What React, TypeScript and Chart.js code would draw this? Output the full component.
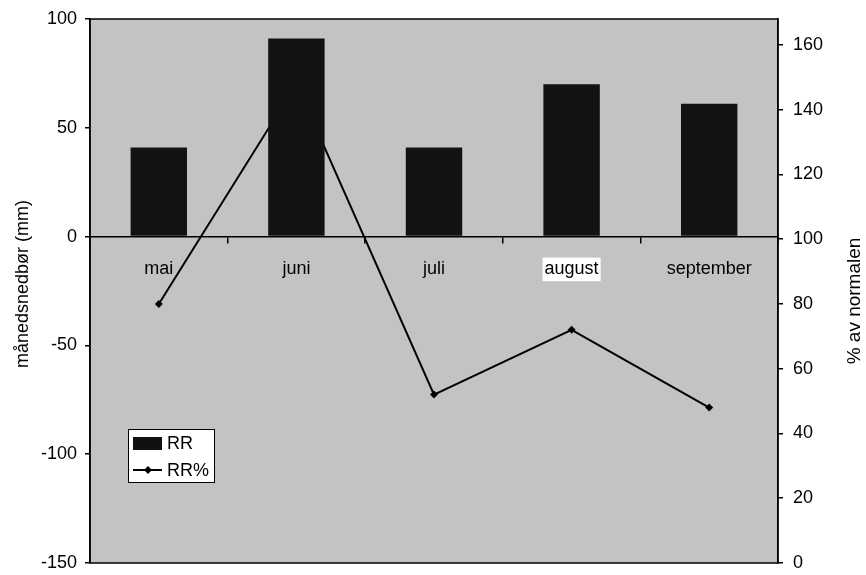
import React, { useEffect, useRef } from "react";
import { Chart, registerables } from "chart.js";

Chart.register(...registerables);

const categories = ["mai", "juni", "juli", "august", "september"];
const rrValues = [41, 91, 41, 70, 61];
const rrPctValues = [80, 148, 52, 72, 48];
const leftTicks = [-150, -100, -50, 0, 50, 100];
const rightTicks = [0, 20, 40, 60, 80, 100, 120, 140, 160];

const FONT = "'Liberation Sans', Arial, Helvetica, sans-serif";

const decorPlugin = {
  id: "decor",
  beforeDraw(chart: any) {
    const { ctx, chartArea } = chart;
    ctx.save();
    ctx.fillStyle = "#ffffff";
    ctx.fillRect(0, 0, chart.width, chart.height);
    ctx.fillStyle = "#c3c3c3";
    ctx.fillRect(chartArea.left, chartArea.top, chartArea.right - chartArea.left, chartArea.bottom - chartArea.top);
    ctx.restore();
  },
  afterDraw(chart: any) {
    const { ctx, chartArea } = chart;
    const { left, top, right, bottom } = chartArea;
    ctx.save();
    // plot frame
    ctx.strokeStyle = "#000";
    ctx.lineWidth = 1.5;
    ctx.strokeRect(left, top, right - left, bottom - top);

    // legend
    const lx = left + 38;
    const ly = top + 410;
    ctx.fillStyle = "#fff";
    ctx.fillRect(lx, ly, 86, 53);
    ctx.lineWidth = 1;
    ctx.strokeRect(lx + 0.5, ly + 0.5, 86, 53);
    ctx.fillStyle = "#111";
    ctx.fillRect(lx + 5, ly + 8, 29, 13);
    ctx.beginPath();
    ctx.moveTo(lx + 5, ly + 41);
    ctx.lineTo(lx + 34, ly + 41);
    ctx.lineWidth = 2;
    ctx.stroke();
    ctx.beginPath();
    ctx.moveTo(lx + 20, ly + 37);
    ctx.lineTo(lx + 24, ly + 41);
    ctx.lineTo(lx + 20, ly + 45);
    ctx.lineTo(lx + 16, ly + 41);
    ctx.closePath();
    ctx.fillStyle = "#000";
    ctx.fill();
    ctx.font = `18px ${FONT}`;
    ctx.textBaseline = "middle";
    ctx.textAlign = "left";
    ctx.fillText("RR", lx + 39, ly + 15);
    ctx.fillText("RR%", lx + 39, ly + 42);

    // axis titles
    ctx.font = `18px ${FONT}`;
    ctx.textAlign = "center";
    ctx.save();
    ctx.translate(23, (top + bottom) / 2 - 7);
    ctx.rotate(-Math.PI / 2);
    ctx.fillText("månedsnedbør (mm)", 0, 0);
    ctx.restore();
    ctx.font = `19px ${FONT}`;
    ctx.save();
    ctx.translate(855, (top + bottom) / 2 + 10);
    ctx.rotate(-Math.PI / 2);
    ctx.fillText("% av normalen", 0, 0);
    ctx.restore();
    ctx.restore();
  },
};

function zeroPad(s: any) {
  s.paddingTop = 0;
  s.paddingBottom = 0;
}

export default function App() {
  const ref = useRef<HTMLCanvasElement | null>(null);

  useEffect(() => {
    if (!ref.current) return;
    const chart = new Chart(ref.current, {
      type: "bar",
      data: {
        labels: categories,
        datasets: [
          {
            type: "bar",
            label: "RR",
            data: rrValues,
            backgroundColor: "#121212",
            borderWidth: 0,
            yAxisID: "y",
            order: 1,
            categoryPercentage: 1,
            barPercentage: 0.41,
          },
          {
            type: "line",
            label: "RR%",
            data: rrPctValues,
            borderColor: "#000",
            backgroundColor: "#000",
            borderWidth: 2,
            pointStyle: "rectRot",
            pointRadius: 4,
            pointBorderWidth: 0,
            yAxisID: "y1",
            order: 2,
            tension: 0,
          },
        ],
      },
      options: {
        animation: false,
        responsive: true,
        maintainAspectRatio: false,
        layout: { padding: { top: 19, bottom: 12, left: 0, right: 0 } },
        plugins: {
          legend: { display: false },
          tooltip: { enabled: false },
        },
        scales: {
          x: {
            type: "category",
            position: { y: 0 } as any,
            offset: true,
            afterFit: (s: any) => {
              s.paddingTop = 0;
              s.paddingBottom = 0;
            },
            grid: {
              offset: true,
              drawOnChartArea: false,
              drawTicks: true,
              tickLength: 6,
              color: "#000",
              lineWidth: 1.5,
            },
            border: { display: true, color: "#000", width: 1.5 },
            ticks: {
              color: "#000",
              font: { family: FONT, size: 18 },
              padding: 16,
              maxRotation: 0,
              autoSkip: false,
              showLabelBackdrop: ((c: any) => c.index === 3) as any,
              backdropColor: "#ffffff",
              backdropPadding: { top: 1, bottom: 1, left: 2, right: 2 },
            } as any,
          },
          y: {
            type: "linear",
            position: "left",
            min: -150,
            max: 100,
            afterBuildTicks: (s: any) => {
              s.ticks = leftTicks.map((v) => ({ value: v }));
            },
            afterFit: (s: any) => {
              s.width = 90;
              zeroPad(s);
            },
            grid: { drawOnChartArea: false, tickLength: 5, color: "#000", lineWidth: 1.5 },
            border: { display: true, color: "#000", width: 1.5 },
            ticks: { color: "#000", font: { family: FONT, size: 18 }, padding: 8 },
          },
          y1: {
            type: "linear",
            position: "right",
            min: 0,
            max: 168,
            afterBuildTicks: (s: any) => {
              s.ticks = rightTicks.map((v) => ({ value: v }));
            },
            afterFit: (s: any) => {
              s.width = 88;
              zeroPad(s);
            },
            grid: { drawOnChartArea: false, tickLength: 5, color: "#000", lineWidth: 1.5 },
            border: { display: true, color: "#000", width: 1.5 },
            ticks: { color: "#000", font: { family: FONT, size: 18 }, padding: 10 },
          },
        },
      },
      plugins: [decorPlugin],
    });
    return () => chart.destroy();
  }, []);

  return (
    <div style={{ position: "fixed", left: 0, top: 0, width: 866, height: 575, background: "#fff" }}>
      <canvas ref={ref} />
    </div>
  );
}
